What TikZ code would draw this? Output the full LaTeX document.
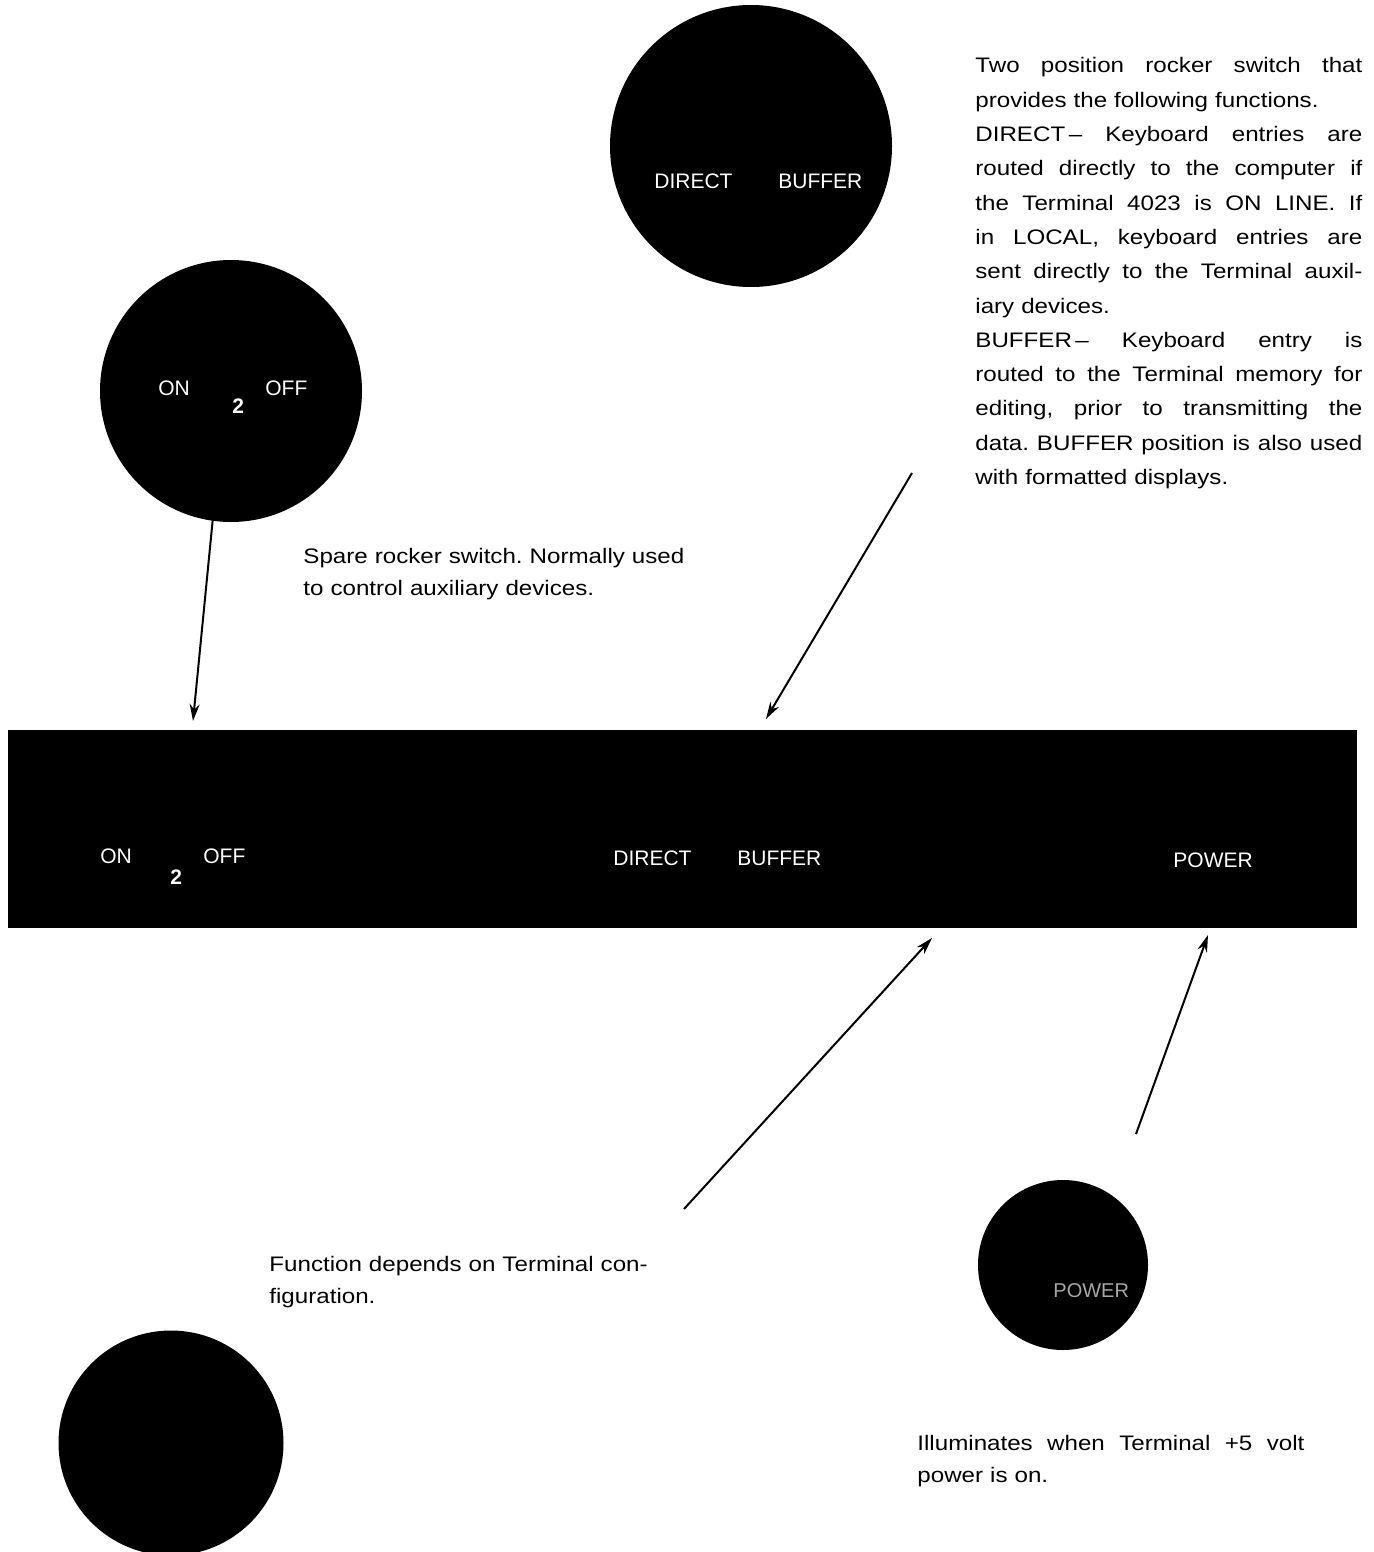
\documentclass[tikz,border=0pt]{standalone}
\usepackage{fontspec}
\setmainfont{Liberation Sans}[FakeStretch=1.15]
\newfontfamily\panelfont{Liberation Sans}
\usetikzlibrary{arrows.meta}
\frenchspacing
\tikzset{
  disc/.style={circle,fill=black,inner sep=0pt},
  keylabel/.style={anchor=base west,inner sep=0pt,text=white,font=\panelfont\fontsize{10.5}{12}\selectfont},
  note/.style={anchor=base west,inner sep=0pt,align=left,text width=200pt},
  pointer/.style={line width=1pt,-{Stealth[length=8.5pt,width=5pt]}}
}
\newcommand{\jline}[1]{\leavevmode\hbox to 193.5pt{\spaceskip=0.3em plus 1fil\relax #1}}
\begin{document}
\begin{tikzpicture}[x=0.5pt,y=-0.5pt]
\useasboundingbox (0,0) rectangle (1374,1552);
\node[disc,minimum size=141pt] (dbdisc) at (751,146) {};
\node[keylabel] (dbdirect) at (654,188) {DIRECT};
\node[keylabel] (dbbuffer) at (778,188) {BUFFER};
\node[disc,minimum size=131pt] (spdisc) at (231,391) {};
\node[keylabel] (spon) at (158,395) {ON};
\node[keylabel] (spoff) at (265,395) {OFF};
\node[keylabel,font=\panelfont\bfseries\fontsize{10.5}{12}\selectfont] (sptwo) at (232,413) {2};
\node[disc,minimum size=85pt] (pwdisc) at (1063,1265) {};
\node[keylabel,text=gray!70,font=\panelfont\fontsize{10}{12}\selectfont] (pwtext) at (1053,1297) {POWER};
\node[disc,minimum size=112.5pt] (fndisc) at (171,1443) {};
\node[fill=black,inner sep=0pt,minimum width=674.5pt,minimum height=99pt] (panel) at (682.5,829) {};
\node[keylabel] (pnon) at (100,863) {ON};
\node[keylabel] (pnoff) at (203,863) {OFF};
\node[keylabel,font=\panelfont\bfseries\fontsize{10.5}{12}\selectfont] (pntwo) at (170,884) {2};
\node[keylabel] (pndirect) at (613,865) {DIRECT};
\node[keylabel] (pnbuffer) at (737,865) {BUFFER};
\node[keylabel] (pnpower) at (1173,867) {POWER};
\node[note,font=\fontsize{10.5}{17.15}\selectfont] (dbnote) at (975,73) {%
\jline{Two position rocker switch that}\\
provides the following functions.\\
\jline{DIRECT\,--\ Keyboard entries are}\\
\jline{routed directly to the computer if}\\
\jline{the Terminal 4023 is ON LINE. If}\\
\jline{in LOCAL, keyboard entries are}\\
\jline{sent directly to the Terminal auxil-}\\
iary devices.\\
\jline{BUFFER\,--\ Keyboard entry is}\\
\jline{routed to the Terminal memory for}\\
\jline{editing, prior to transmitting the}\\
\jline{data. BUFFER position is also used}\\
with formatted displays.};
\node[note,font=\fontsize{10.5}{16}\selectfont] (spnote) at (303,563) {Spare rocker switch. Normally used\\to control auxiliary devices.};
\node[note,font=\fontsize{10.5}{16}\selectfont] (fnnote) at (269,1271) {Function depends on Terminal con-\\figuration.};
\node[note,font=\fontsize{10.5}{16}\selectfont] (pwnote) at (917,1450) {\jline{Illuminates when Terminal +5 volt}\\power is on.};
\coordinate (sptail) at (213,517);
\coordinate (sphead) at (193,721);
\coordinate (dbtail) at (912,473);
\coordinate (dbhead) at (766,719);
\coordinate (fntail) at (684,1209);
\coordinate (fnhead) at (932,938);
\coordinate (pwtail) at (1136,1134);
\coordinate (pwhead) at (1208,935);
\draw[pointer] (sptail) -- (sphead);
\draw[pointer] (dbtail) -- (dbhead);
\draw[pointer] (fntail) -- (fnhead);
\draw[pointer] (pwtail) -- (pwhead);
\end{tikzpicture}
\end{document}
